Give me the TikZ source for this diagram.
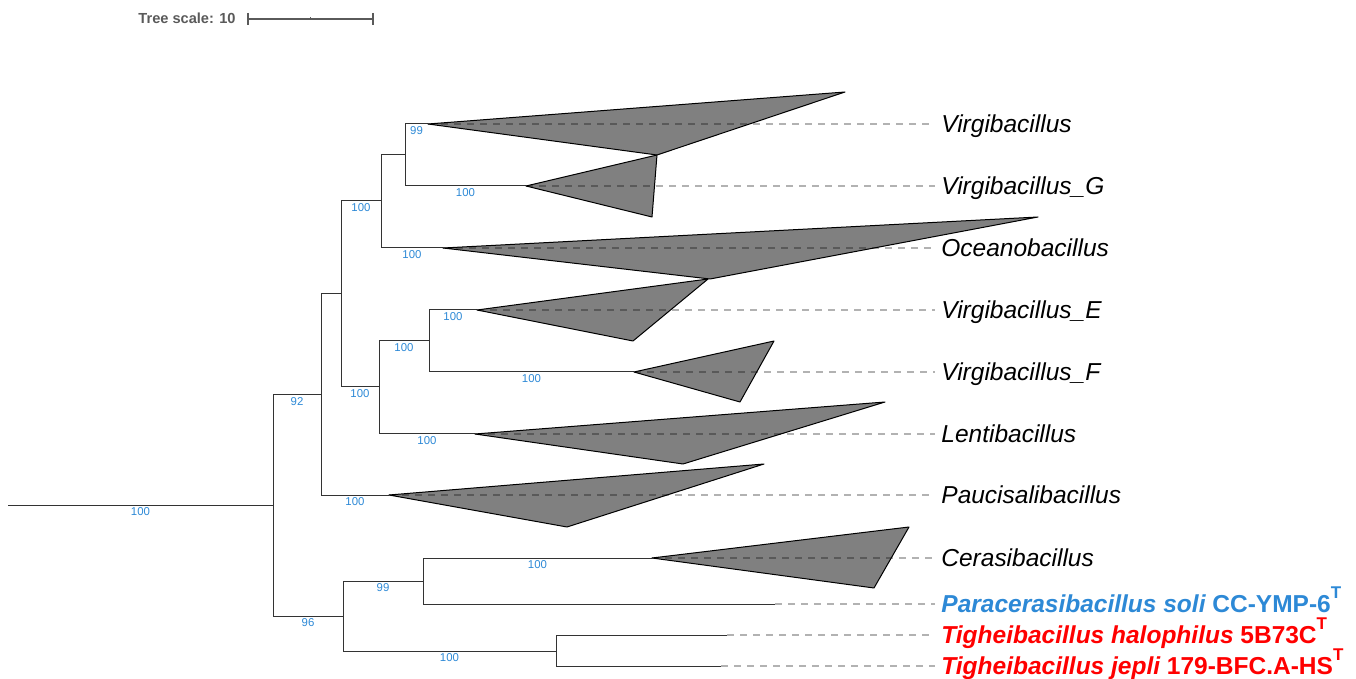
\documentclass[tikz,border=0pt]{standalone}
\usepackage{fontspec}
\setmainfont{Liberation Sans}
\definecolor{bsblue}{RGB}{45,137,214}
\definecolor{cladegray}{RGB}{128,128,128}
\definecolor{scalegray}{RGB}{90,90,90}
\newcommand{\typestr}{\raisebox{7pt}{\fontsize{8.5pt}{8.5pt}\selectfont T}}
\tikzset{
  branch/.style={draw=black!80, line width=0.5pt},
  bs/.style={font=\fontsize{5.7pt}{6pt}\selectfont, text=bsblue, anchor=north, inner sep=0pt, yshift=-1pt, pos=0.75},
  clade/.style={fill=cladegray, draw=black, line width=0.5pt, line join=round},
  guide/.style={draw=black, opacity=0.3, line width=0.7pt, dash pattern=on 3.5pt off 3pt, shorten >=3pt},
  leaf/.style={anchor=west, inner sep=0pt, font=\fontsize{12.25pt}{14pt}\selectfont, text height=11pt, text depth=2.2pt}
}
\begin{document}
\begin{tikzpicture}[x=0.5pt, y=-0.5pt]
\useasboundingbox (0,0) rectangle (1356,679);
% scale bar
\node[anchor=east, inner sep=0pt, text=scalegray, font=\fontsize{7.3pt}{8pt}\selectfont\bfseries] (scl) at (236,18) {Tree scale: 10};
\coordinate (sa) at (248,19);
\coordinate (sb) at (373,19);
\draw[scalegray, line width=0.6pt] (sa) -- (sb);
\draw[scalegray, line width=0.6pt] ([yshift=3pt]sa) -- ([yshift=-3pt]sa) ([yshift=3pt]sb) -- ([yshift=-3pt]sb) (310.5,17.5) -- (310.5,20.5);
% internal nodes
\coordinate (root) at (8,505);
\coordinate (n0) at (273,505);
\coordinate (n1) at (321,395);
\coordinate (n2) at (341,294);
\coordinate (n3) at (381,201);
\coordinate (n4) at (405,155);
\coordinate (n5) at (379,387);
\coordinate (n6) at (429,341);
\coordinate (n7) at (343,616);
\coordinate (n8) at (423,581);
\coordinate (n9) at (556,651);
% tips
\coordinate (tVir) at (428,124);
\coordinate (tVirG) at (526,186);
\coordinate (tOce) at (443,248);
\coordinate (tVirE) at (477,310);
\coordinate (tVirF) at (634,372);
\coordinate (tLen) at (475,434);
\coordinate (tPau) at (389,495);
\coordinate (tCer) at (652,558);
\coordinate (tPar) at (775,604);
\coordinate (tTha) at (727,635);
\coordinate (tTje) at (721,666);
% branches
\draw[branch] (root) -- node[bs, pos=0.5] {100} (n0);
\draw[branch] (n0) |- node[bs] {92} (n1);
\draw[branch] (n0) |- node[bs] {96} (n7);
\draw[branch] (n1) |- (n2);
\draw[branch] (n1) |- node[bs] {100} (tPau);
\draw[branch] (n2) |- node[bs] {100} (n3);
\draw[branch] (n2) |- node[bs] {100} (n5);
\draw[branch] (n3) |- (n4);
\draw[branch] (n3) |- node[bs] {100} (tOce);
\draw[branch] (n4) |- node[bs] {99} (tVir);
\draw[branch] (n4) |- node[bs] {100} (tVirG);
\draw[branch] (n5) |- node[bs] {100} (n6);
\draw[branch] (n5) |- node[bs] {100} (tLen);
\draw[branch] (n6) |- node[bs] {100} (tVirE);
\draw[branch] (n6) |- node[bs] {100} (tVirF);
\draw[branch] (n7) |- node[bs] {99} (n8);
\draw[branch] (n7) |- node[bs] {100} (n9);
\draw[branch] (n8) |- node[bs] {100} (tCer);
\draw[branch] (n8) |- (tPar);
\draw[branch] (n9) |- (tTha);
\draw[branch] (n9) |- (tTje);
% collapsed clades
\filldraw[clade] (tVir) -- (845,92) -- (657,155) -- cycle;
\filldraw[clade] (tVirG) -- (657,155) -- (652,217) -- cycle;
\filldraw[clade] (tOce) -- (1038,217) -- (710,279) -- cycle;
\filldraw[clade] (tVirE) -- (708,279) -- (633,341) -- cycle;
\filldraw[clade] (tVirF) -- (774,341) -- (740,402) -- cycle;
\filldraw[clade] (tLen) -- (885,402) -- (683,464) -- cycle;
\filldraw[clade] (tPau) -- (764,464) -- (567,527) -- cycle;
\filldraw[clade] (tCer) -- (909,527) -- (874,588) -- cycle;
% leaf labels
\node[leaf] (lVir) at (941,124) {\itshape Virgibacillus};
\node[leaf] (lVirG) at (941,186) {\itshape Virgibacillus\_G};
\node[leaf] (lOce) at (941,248) {\itshape Oceanobacillus};
\node[leaf] (lVirE) at (941,310) {\itshape Virgibacillus\_E};
\node[leaf] (lVirF) at (941,372) {\itshape Virgibacillus\_F};
\node[leaf] (lLen) at (941,434) {\itshape Lentibacillus};
\node[leaf] (lPau) at (941,495) {\itshape Paucisalibacillus};
\node[leaf] (lCer) at (941,558) {\itshape Cerasibacillus};
\node[leaf, text=bsblue, font=\fontsize{12.25pt}{14pt}\selectfont\bfseries] (lPar) at (941,604) {\itshape Paracerasibacillus soli\upshape{} CC-YMP-6\typestr};
\node[leaf, text=red, font=\fontsize{12.25pt}{14pt}\selectfont\bfseries] (lTha) at (941,635) {\itshape Tigheibacillus halophilus\upshape{} 5B73C\typestr};
\node[leaf, text=red, font=\fontsize{12.25pt}{14pt}\selectfont\bfseries] (lTje) at (941,666) {\itshape Tigheibacillus jepli\upshape{} 179-BFC.A-HS\typestr};
% guides
\foreach \t/\l in {tVir/lVir, tVirG/lVirG, tOce/lOce, tVirE/lVirE, tVirF/lVirF, tLen/lLen, tPau/lPau, tCer/lCer, tPar/lPar, tTha/lTha, tTje/lTje}
  \draw[guide] (\t) -- (\l.west);
\end{tikzpicture}
\end{document}
